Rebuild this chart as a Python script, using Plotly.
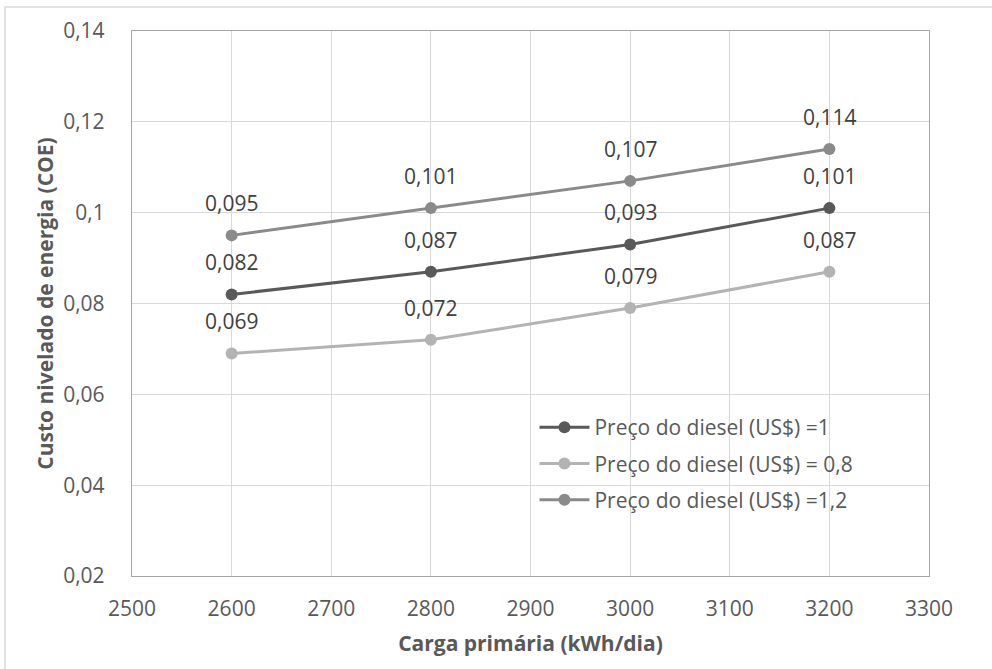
import plotly.graph_objects as go

carga = [2600, 2800, 3000, 3200]
coe_1 = [0.082, 0.087, 0.093, 0.101]
coe_08 = [0.069, 0.072, 0.079, 0.087]
coe_12 = [0.095, 0.101, 0.107, 0.114]
names = ["Preço do diesel (US$) =1", "Preço do diesel (US$) = 0,8", "Preço do diesel (US$) =1,2"]
colors = ["#595959", "#b3b3b3", "#8a8a8a"]
y_ticks = [0.02, 0.04, 0.06, 0.08, 0.1, 0.12, 0.14]
y_ticktext = ["0,02", "0,04", "0,06", "0,08", "0,1", "0,12", "0,14"]
x_ticks = [2500, 2600, 2700, 2800, 2900, 3000, 3100, 3200, 3300]

FONT = "Open Sans"
FS = 21
fig = go.Figure()
series = [coe_1, coe_08, coe_12]
for i, (ys, nm, c) in enumerate(zip(series, names, colors)):
    fig.add_trace(go.Scatter(x=carga, y=ys, name=nm, mode="lines+markers",
                             line=dict(color=c, width=3),
                             marker=dict(color=c, size=12),
                             legendgroup=f"g{i}"))

annotations = []
for ys in series:
    for x, y in zip(carga, ys):
        annotations.append(dict(x=x, y=y, xref="x", yref="y",
                                text=f"{y:.3f}".replace(".", ","),
                                showarrow=False, yshift=32,
                                font=dict(family=FONT, size=FS, color="#404040")))

fig.update_layout(
    width=992, height=669,
    margin=dict(l=132, r=63, t=31, b=93),
    paper_bgcolor="white", plot_bgcolor="white",
    separators=",.",
    font=dict(family=FONT, size=FS, color="#595959"),
    annotations=annotations,
    showlegend=True,
    legend=dict(x=0.505, y=0.31, xanchor="left", yanchor="top",
                bgcolor="rgba(0,0,0,0)", tracegroupgap=6,
                font=dict(family=FONT, size=FS, color="#595959"),
                itemwidth=50),
    shapes=[dict(type="rect", xref="paper", yref="paper",
                 x0=-0.1593, x1=1.09, y0=-0.18, y1=1.044,
                 line=dict(color="#d9d9d9", width=1.5), layer="below")],
)
fig.update_xaxes(range=[2500, 3300], tickvals=x_ticks, showgrid=True,
                 gridcolor="#d9d9d9", gridwidth=1.3, showline=True,
                 linecolor="#a6a6a6", linewidth=1.3, mirror=True,
                 ticks="", ticklabelstandoff=14, zeroline=False,
                 title=dict(text="<b>Carga primária (kWh/dia)</b>", standoff=14,
                            font=dict(family=FONT, size=FS, color="#595959")))
fig.update_yaxes(range=[0.02, 0.14], tickvals=y_ticks, ticktext=y_ticktext,
                 showgrid=True, gridcolor="#d9d9d9", gridwidth=1.3,
                 showline=True, linecolor="#a6a6a6", linewidth=1.3, mirror=True,
                 ticks="", ticklabelstandoff=22, zeroline=False,
                 title=dict(text="<b>Custo nivelado de energia (COE)</b>", standoff=3,
                            font=dict(family=FONT, size=FS, color="#595959")))
fig.write_html("out.html")
